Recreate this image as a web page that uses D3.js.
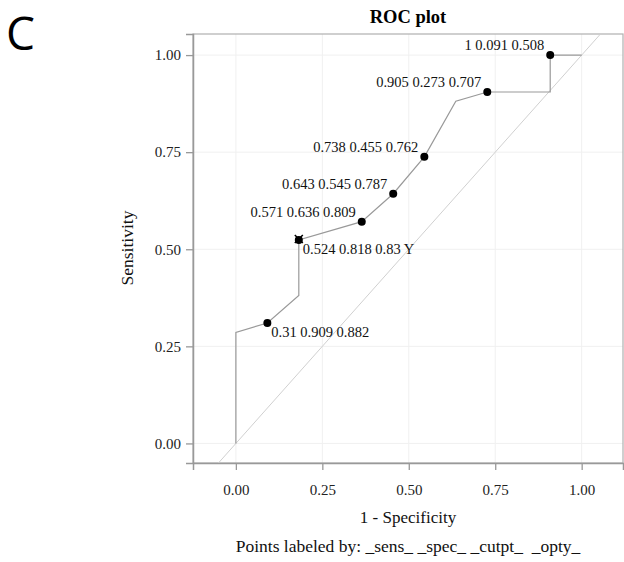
<!DOCTYPE html>
<html><head><meta charset="utf-8">
<script src="https://cdn.jsdelivr.net/npm/d3@7"></script>
<style>body{margin:0;background:#fff}</style>
</head><body>
<svg id="c" width="624" height="562"></svg>
<script>
// Data
const curveX = [0, 0, 0.091, 0.182, 0.182, 0.364, 0.455, 0.545, 0.636, 0.727, 0.909, 0.909, 1.0];
const curveY = [0, 0.286, 0.31, 0.381, 0.524, 0.571, 0.643, 0.738, 0.881, 0.905, 0.905, 1.0, 1.0];
const pointSens = [0.31, 0.524, 0.571, 0.643, 0.738, 0.905, 1];
const pointSpec = [0.909, 0.818, 0.636, 0.545, 0.455, 0.273, 0.091];
const pointCut = [0.882, 0.83, 0.809, 0.787, 0.762, 0.707, 0.508];
const pointOpty = ["", "Y", "", "", "", "", ""];
const labelSide = ["below", "below", "above", "above", "above", "above", "above"];
const tickVals = [0, 0.25, 0.5, 0.75, 1.0];

const svg = d3.select("#c");
const L = 193, R = 623, T = 34, B = 463;
const x = d3.scaleLinear().domain([-0.124, 1.1195]).range([L, R]);
const y = d3.scaleLinear().domain([-0.0504, 1.0543]).range([B, T]);

svg.append("defs").append("clipPath").attr("id","clip")
  .append("rect").attr("x",L).attr("y",T).attr("width",R-L).attr("height",B-T);

// grid
const g = svg.append("g");
g.selectAll(".gx").data(tickVals).enter().append("line")
  .attr("x1",d=>x(d)).attr("x2",d=>x(d)).attr("y1",T).attr("y2",B)
  .attr("stroke","#f0f0f0").attr("stroke-width",1);
g.selectAll(".gy").data(tickVals).enter().append("line")
  .attr("y1",d=>y(d)).attr("y2",d=>y(d)).attr("x1",L).attr("x2",R)
  .attr("stroke","#f0f0f0").attr("stroke-width",1);

// frame
svg.append("rect").attr("x",L).attr("y",T).attr("width",R-L).attr("height",B-T)
  .attr("fill","none").attr("stroke","#b0b0b0").attr("stroke-width",1.2);

// axes
const fmt = d3.format(".2f");
const ax = svg.append("g").attr("transform",`translate(0,${B})`)
  .call(d3.axisBottom(x).tickValues(tickVals).tickFormat(fmt).tickSize(7).tickPadding(14));
const ay = svg.append("g").attr("transform",`translate(${L},0)`)
  .call(d3.axisLeft(y).tickValues(tickVals).tickFormat(fmt).tickSize(7).tickPadding(5));
[ax,ay].forEach(a=>{
  a.select(".domain").attr("stroke","#999").attr("stroke-width",1.5);
  a.selectAll(".tick line").attr("stroke","#999").attr("stroke-width",1.3);
  a.selectAll(".tick text").attr("font-family","Liberation Serif").attr("font-size",15).attr("fill","#222");
});

// diagonal
svg.append("line").attr("clip-path","url(#clip)")
  .attr("x1",x(-0.2)).attr("y1",y(-0.2)).attr("x2",x(1.2)).attr("y2",y(1.2))
  .attr("stroke","#d0d0d0").attr("stroke-width",1);

// curve
const line = d3.line().x(d=>x(d[0])).y(d=>y(d[1]));
svg.append("path").datum(curveX.map((v,i)=>[v,curveY[i]]))
  .attr("d",line).attr("fill","none").attr("stroke","#999").attr("stroke-width",1.2);

// points
const pts = pointSens.map((s,i)=>({x:1-pointSpec[i], y:s, spec:pointSpec[i], cut:pointCut[i], opty:pointOpty[i], side:labelSide[i]}));
svg.selectAll(".pt").data(pts).enter().append("circle")
  .attr("cx",d=>x(d.x)).attr("cy",d=>y(d.y)).attr("r",4).attr("fill","#000");
// optimal marker cross
pts.filter(d=>d.opty==="Y").forEach(d=>{
  const cx=x(d.x), cy=y(d.y);
  svg.append("path").attr("d",`M${cx-4},${cy-5}L${cx+4},${cy+3}M${cx+4},${cy-5}L${cx-4},${cy+3}`)
    .attr("stroke","#000").attr("stroke-width",1.5);
});
const fmtN = v => String(+v.toFixed(3));
svg.selectAll(".lbl").data(pts).enter().append("text")
  .attr("x",d=>d.side==="above"? x(d.x)-6 : x(d.x)+4)
  .attr("y",d=>d.side==="above"? y(d.y)-5 : y(d.y)+14)
  .attr("text-anchor",d=>d.side==="above"?"end":"start")
  .attr("font-family","Liberation Serif").attr("font-size",14.5).attr("fill","#111")
  .text(d=>`${fmtN(d.y)} ${fmtN(d.spec)} ${fmtN(d.cut)}` + (d.opty? " "+d.opty:""));

// titles
svg.append("text").attr("x",408).attr("y",23).attr("text-anchor","middle")
  .attr("font-family","Liberation Serif").attr("font-weight","bold").attr("font-size",18.5).text("ROC plot");
svg.append("text").attr("x",408).attr("y",523).attr("text-anchor","middle")
  .attr("font-family","Liberation Serif").attr("font-size",17).attr("fill","#111").text("1 - Specificity");
svg.append("text").attr("x",408).attr("y",552).attr("text-anchor","middle")
  .attr("font-family","Liberation Serif").attr("font-size",17.5).attr("fill","#111").attr("xml:space","preserve")
  .text("Points labeled by: _sens_ _spec_ _cutpt_  _opty_");
svg.append("text").attr("transform","translate(133,248) rotate(-90)").attr("text-anchor","middle")
  .attr("font-family","Liberation Serif").attr("font-size",17.5).attr("fill","#111").text("Sensitivity");
svg.append("text").attr("x",6).attr("y",49.5).attr("font-family","Open Sans").attr("font-size",46).text("C");
</script>
</body></html>
